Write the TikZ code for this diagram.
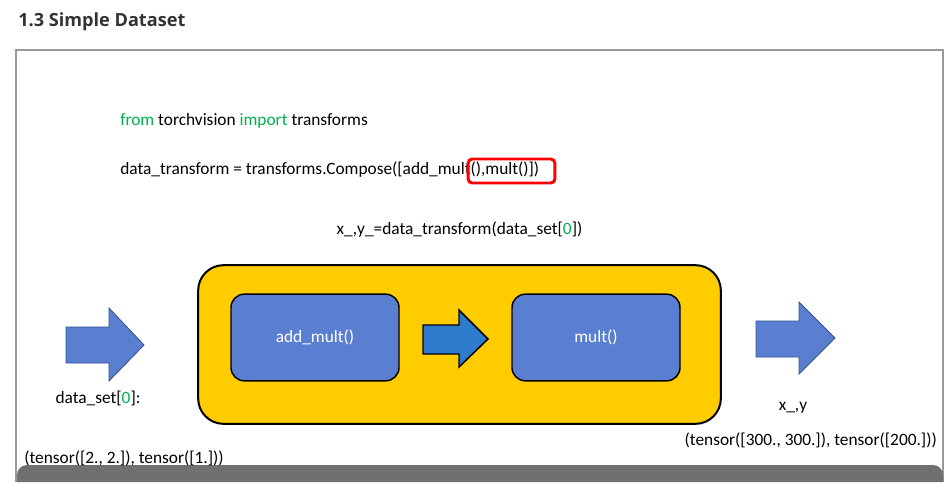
\documentclass[tikz,border=0pt]{standalone}
\usepackage{fontspec}
\setmainfont{Carlito}
\newfontfamily\titlefont{Open Sans}
\usetikzlibrary{positioning}

\definecolor{pipeyellow}{HTML}{FFCC00}
\definecolor{fnblue}{HTML}{5B7FD0}
\definecolor{midblue}{HTML}{2E7ACB}
\definecolor{arrline}{HTML}{2F528F}
\definecolor{kwgreen}{HTML}{00B050}
\definecolor{framegray}{HTML}{999999}
\definecolor{bargray}{HTML}{707070}
\definecolor{titlegray}{HTML}{333333}

\begin{document}
\begin{tikzpicture}[x=0.75pt, y=-0.75pt,
  txt/.style={font=\fontsize{13pt}{15pt}\selectfont, inner sep=0pt},
  code/.style={txt, anchor=west},
  pipe/.style={draw=black, line width=1.5pt, fill=pipeyellow, rounded corners=19pt,
               minimum width=392pt, minimum height=119pt},
  fn/.style={txt, draw=black, line width=1.1pt, fill=fnblue, rounded corners=10pt,
             minimum width=126pt, minimum height=65pt, text=white},
  hl/.style={draw=red, line width=2.2pt, rounded corners=3pt,
             minimum width=65pt, minimum height=18pt},
  blockarr/.style={draw=arrline, line width=0.6pt, fill=fnblue},
  midarr/.style={draw=black, line width=1.1pt, fill=midblue}
]
\useasboundingbox (0,0) rectangle (948,482);

%% ── frame ───────────────────────────────────────────────────────────────
\node[anchor=west, inner sep=0pt, text=titlegray,
      font=\titlefont\bfseries\fontsize{13.6pt}{16pt}\selectfont]
      (title) at (18,22) {1.3 Simple Dataset};
\draw[framegray, line width=1.5pt] (16,482) -- (16,50) -- (943,50) -- (943,482);
\fill[bargray] (17,482) [rounded corners=7.5pt] -- (17,465) -- (943,465)
      [sharp corners] -- (943,482) -- cycle;

%% ── code lines ──────────────────────────────────────────────────────────
\node[code] (imp) at (120,121)
  {{\color{kwgreen}from} torchvision {\color{kwgreen}import} transforms};
\node[code] (comp) at (120,170)
  {data\_transform = transforms.Compose([add\_mult(),mult()])};
\node[hl] (hlbox) at (511.5,171) {};
\node[txt] (call) at (459.5,230)
  {x\_,y\_=data\_transform(data\_set[{\color{kwgreen}0}])};

%% ── transform pipeline ──────────────────────────────────────────────────
\node[pipe] (compose) at (459.5,344.5) {};
\node[fn] (addmult) at (315,337.5) {add\_mult()};
\node[fn] (mult)    at (596,337.5) {mult()};

% arrows
\draw[blockarr] (66,327) -- (109,327) -- (109,308) -- (144,345)
                -- (109,381) -- (109,363) -- (66,363) -- cycle;
\draw[midarr]   (423,325) -- (459,325) -- (459,310) -- (488,339)
                -- (459,367) -- (459,354) -- (423,354) -- cycle;
\draw[blockarr] (756,321) -- (799,321) -- (799,302) -- (835,338)
                -- (799,374) -- (799,357) -- (756,357) -- cycle;

%% ── input / output labels ───────────────────────────────────────────────
\node[txt] (inlbl)  at (98,398) {data\_set[{\color{kwgreen}0}]:};
\node[txt] (outlbl) at (793,408) {x\_,y};
\node[code] (inval) at (24,458) {(tensor([2., 2.]), tensor([1.]))};
\node[txt, anchor=east] (outval) at (937,440)
  {(tensor([300., 300.]), tensor([200.]))};

\end{tikzpicture}
\end{document}
